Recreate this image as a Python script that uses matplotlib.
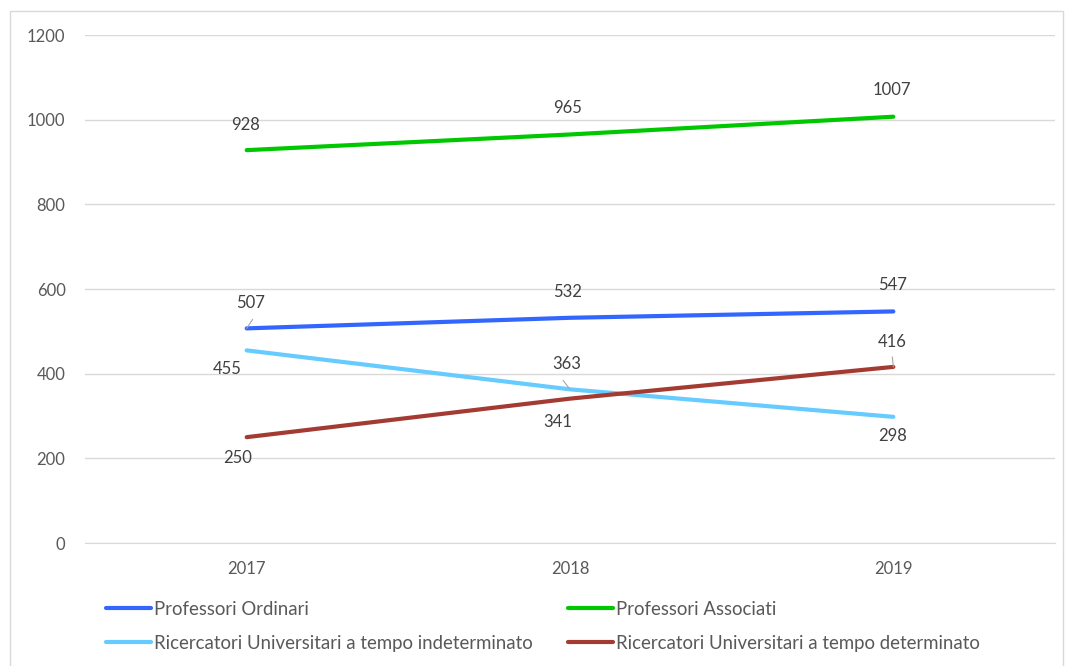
import matplotlib
matplotlib.use("Agg")
import matplotlib.pyplot as plt
from matplotlib.patches import Rectangle

years = ["2017", "2018", "2019"]
prof_ordinari = [507, 532, 547]
prof_associati = [928, 965, 1007]
ric_indeterminato = [455, 363, 298]
ric_determinato = [250, 341, 416]
labels = ["Professori Ordinari", "Professori Associati",
          "Ricercatori Universitari a tempo indeterminato",
          "Ricercatori Universitari a tempo determinato"]
colors = ["#3366ff", "#00c800", "#66ccff", "#a33b33"]

plt.rcParams['font.family'] = ['Lato', 'DejaVu Sans']

fig = plt.figure(figsize=(10.65, 6.66), dpi=100)
ax = fig.add_axes([85/1065, 1-543/666, 970/1065, 508/666])

x = list(range(len(years)))
series = [prof_ordinari, prof_associati, ric_indeterminato, ric_determinato]
lines = []
for s, c, l in zip(series, colors, labels):
    ln, = ax.plot(x, s, color=c, lw=3.0, solid_capstyle='round', label=l, zorder=3)
    lines.append(ln)

ax.set_xlim(-0.5, 2.5)
ax.set_ylim(0, 1200)
ax.set_yticks(range(0, 1201, 200))
ax.set_xticks(x)
ax.set_xticklabels(years)
ax.grid(axis='y', color='#d9d9d9', lw=1)
ax.set_axisbelow(True)
for sp in ['top', 'right', 'left']:
    ax.spines[sp].set_visible(False)
ax.spines['bottom'].set_color('#d9d9d9')
ax.tick_params(length=0, labelsize=12, colors='#595959')
ax.tick_params(axis='y', pad=14)
ax.tick_params(axis='x', pad=13)

# data labels: offsets in pixels (dx, dy) relative to points
offsets = {
    0: [(4, 25), (-2, 26), (-1, 26)],
    1: [(-1, 25), (-2, 26), (-1, 27)],
    2: [(-19, -19), (-3, 25), (-1, -19)],
    3: [(-9, -21), (-12, -23), (-1, 25)],
}
for si, s in enumerate(series):
    for xi, v in enumerate(s):
        dx, dy = offsets[si][xi]
        ax.annotate(str(v), (xi, v), xytext=(dx, dy),
                    textcoords='offset pixels', ha='center', va='center',
                    fontsize=12, color='#404040', zorder=4)

# leader lines (in pixel offsets)
lead = [((0, 507), (6, 9)), ((1, 363), (-7, 9)), ((2, 416), (-1, 10))]
for (xi, v), p1 in lead:
    ax.annotate("", (xi, v), xytext=p1, textcoords='offset pixels',
                arrowprops=dict(arrowstyle='-', color='#a6a6a6', lw=0.8,
                                shrinkA=0, shrinkB=0),
                zorder=4)

order = [0, 2, 1, 3]
leg = fig.legend([lines[i] for i in order], [labels[i] for i in order],
                 ncol=2, loc='upper left', bbox_to_anchor=(89/1065, 1-584/666),
                 frameon=False, fontsize=13.4, handlelength=2.45, handletextpad=0.12,
                 columnspacing=1.9, labelspacing=0.9)
for t in leg.get_texts():
    t.set_color('#595959')

fig.patches.append(Rectangle((10/1065, -0.05), 1053/1065, 1.05 - 11/666,
                             transform=fig.transFigure, fill=False,
                             edgecolor='#d9d9d9', lw=1))

fig.savefig("out.png", dpi=100, facecolor='white')
